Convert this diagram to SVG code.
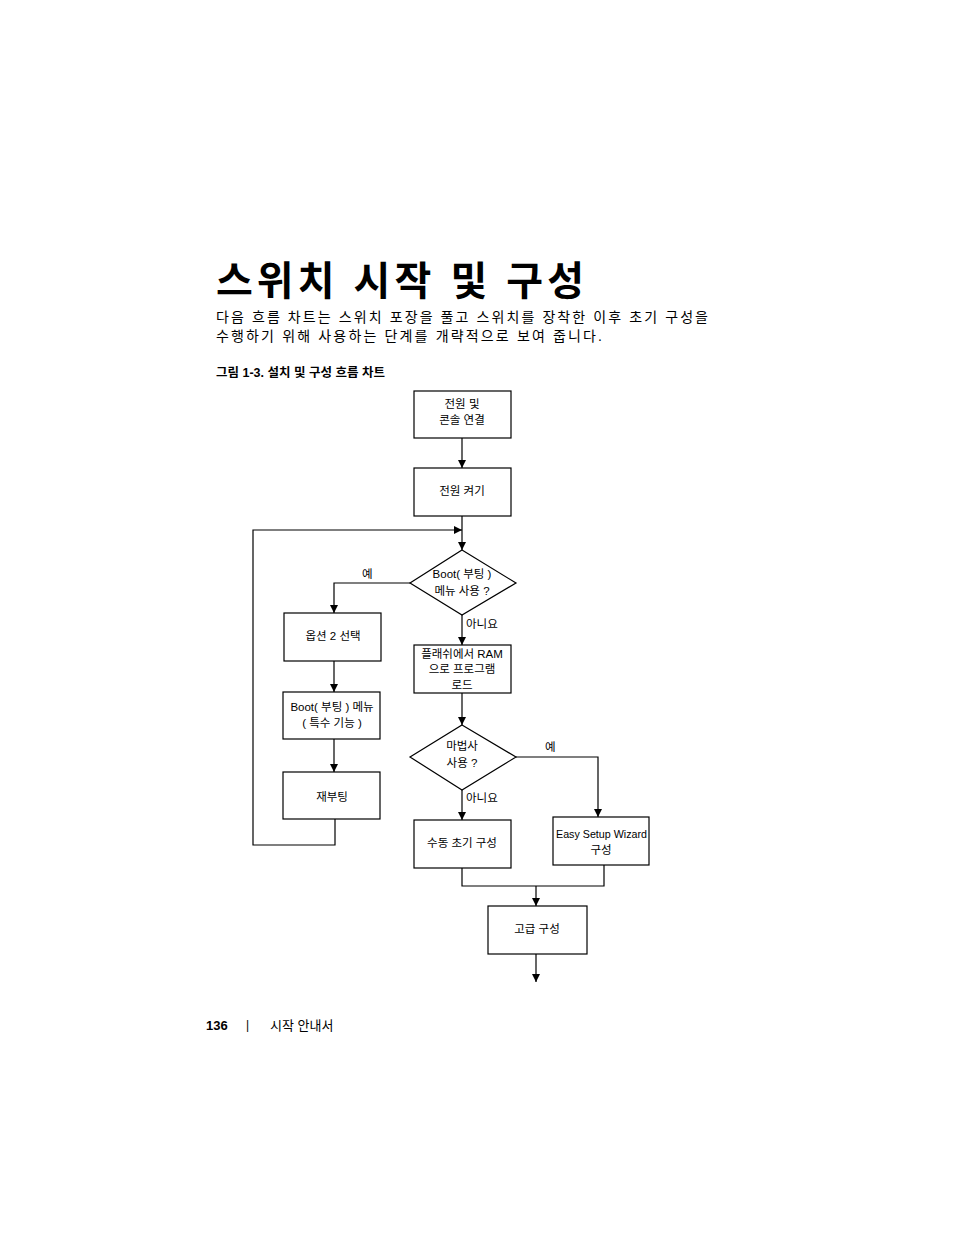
<svg xmlns="http://www.w3.org/2000/svg" width="954" height="1235" viewBox="0 0 954 1235">
<style>
text{font-family:"Liberation Sans","Noto Sans CJK KR",sans-serif;fill:#000}
.n{font-size:11.5px;text-anchor:middle}
.l{font-size:11.5px}
rect,polygon{fill:#fff;stroke:#000;stroke-width:1.2}
#connectors path{fill:none;stroke:#000;stroke-width:1.2}
</style>
<defs><marker id="a" viewBox="0 0 10 10" refX="10" refY="5" markerWidth="8" markerHeight="8" markerUnits="userSpaceOnUse" orient="auto"><path d="M0,0L10,5L0,10z" fill="#000"/></marker></defs>
<rect width="954" height="1235" style="fill:#fff;stroke:none"/>
<text x="216" y="295" textLength="368" style="font-size:40px;font-weight:bold">스위치 시작 및 구성</text>
<text x="216" y="322" textLength="492" style="font-size:14px">다음 흐름 차트는 스위치 포장을 풀고 스위치를 장착한 이후 초기 구성을</text>
<text x="216" y="341" textLength="386" style="font-size:14px">수행하기 위해 사용하는 단계를 개략적으로 보여 줍니다.</text>
<text x="216" y="377" style="font-size:12.5px;font-weight:bold">그림 1-3.   설치 및 구성 흐름 차트</text>
<g id="connectors">
<path d="M462,438V468" marker-end="url(#a)"/>
<path d="M462,516V550" marker-end="url(#a)"/>
<path d="M410,583H334V613" marker-end="url(#a)"/>
<path d="M462,615V645" marker-end="url(#a)"/>
<path d="M334,661V692" marker-end="url(#a)"/>
<path d="M334,739V772" marker-end="url(#a)"/>
<path d="M335,819V845H253V530H462" marker-end="url(#a)"/>
<path d="M462,693V725" marker-end="url(#a)"/>
<path d="M516,757H598V817" marker-end="url(#a)"/>
<path d="M462,790V820" marker-end="url(#a)"/>
<path d="M462,868V886H604V865"/>
<path d="M536,886V906" marker-end="url(#a)"/>
<path d="M536,954V982" marker-end="url(#a)"/>
</g>
<g id="n1"><rect x="414" y="391" width="97" height="47"/><text class="n" x="462" y="408">전원 및</text><text class="n" x="462" y="424">콘솔 연결</text></g>
<g id="n2"><rect x="414" y="468" width="97" height="48"/><text class="n" x="462" y="495">전원 켜기</text></g>
<g id="d1"><polygon points="462,550 516,583 462,615 410,583"/><text class="n" x="462" y="578">Boot( 부팅 )</text><text class="n" x="462" y="595">메뉴 사용 ?</text></g>
<g id="n3"><rect x="284" y="613" width="97" height="48"/><text class="n" x="333" y="640">옵션 2 선택</text></g>
<g id="n4"><rect x="283" y="692" width="97" height="47"/><text class="n" x="332" y="711">Boot( 부팅 ) 메뉴</text><text class="n" x="332" y="727">( 특수 기능 )</text></g>
<g id="n5"><rect x="283" y="772" width="97" height="47"/><text class="n" x="332" y="801">재부팅</text></g>
<g id="n6"><rect x="414" y="645" width="97" height="48"/><text class="n" x="462" y="658">플래쉬에서 RAM</text><text class="n" x="462" y="673">으로 프로그램</text><text class="n" x="462" y="689">로드</text></g>
<g id="d2"><polygon points="462,725 516,757 462,790 410,757"/><text class="n" x="462" y="750">마법사</text><text class="n" x="462" y="767">사용 ?</text></g>
<g id="n7"><rect x="414" y="820" width="97" height="48"/><text class="n" x="462" y="847">수동 초기 구성</text></g>
<g id="n8"><rect x="553" y="817" width="96" height="48"/><text x="556" y="838" textLength="91" lengthAdjust="spacingAndGlyphs" style="font-size:11.5px">Easy Setup Wizard</text><text class="n" x="601" y="854">구성</text></g>
<g id="n9"><rect x="488" y="906" width="99" height="48"/><text class="n" x="537" y="933">고급 구성</text></g>
<text class="l" x="362" y="578">예</text>
<text class="l" x="466" y="628">아니요</text>
<text class="l" x="545" y="751">예</text>
<text class="l" x="466" y="802">아니요</text>
<text x="206" y="1030" style="font-size:13px;font-weight:bold">136</text>
<text x="246" y="1029" style="font-size:12px">|</text>
<text x="270" y="1030" style="font-size:13px">시작 안내서</text>
</svg>
